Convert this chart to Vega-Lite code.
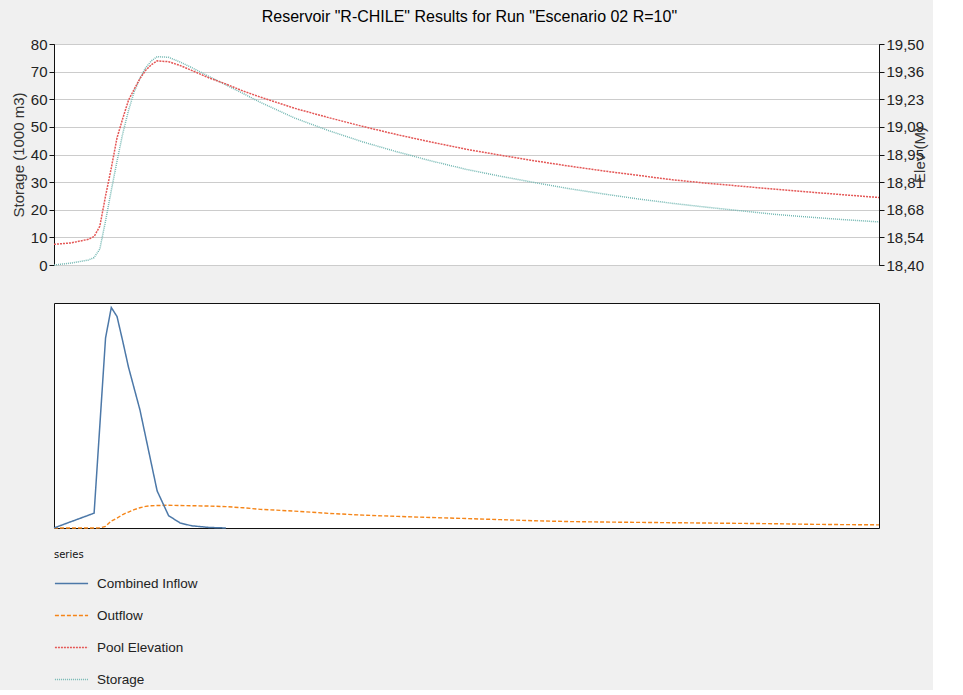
{
  "$schema": "https://vega.github.io/schema/vega-lite/v6.json",
  "background": "#f0f0f0",
  "padding": {"left": 10, "top": 8, "right": 4, "bottom": 4},
  "title": {
    "text": "Reservoir \"R-CHILE\" Results for Run \"Escenario 02 R=10\"",
    "font": "Liberation Sans",
    "fontSize": 16,
    "fontWeight": "normal",
    "color": "#000",
    "anchor": "middle",
    "offset": 12
  },
  "datasets": {
    "storage": [
      {"time": "2017-07-28T00:00", "series": "Storage", "value": 0},
      {"time": "2017-07-28T00:30", "series": "Storage", "value": 0.7},
      {"time": "2017-07-28T01:00", "series": "Storage", "value": 1.8},
      {"time": "2017-07-28T01:10", "series": "Storage", "value": 2.7},
      {"time": "2017-07-28T01:20", "series": "Storage", "value": 5.8},
      {"time": "2017-07-28T01:30", "series": "Storage", "value": 16.0},
      {"time": "2017-07-28T01:40", "series": "Storage", "value": 27.0},
      {"time": "2017-07-28T01:50", "series": "Storage", "value": 37.6},
      {"time": "2017-07-28T02:00", "series": "Storage", "value": 47.6},
      {"time": "2017-07-28T02:10", "series": "Storage", "value": 55.9},
      {"time": "2017-07-28T02:20", "series": "Storage", "value": 62.7},
      {"time": "2017-07-28T02:30", "series": "Storage", "value": 67.6},
      {"time": "2017-07-28T02:40", "series": "Storage", "value": 71.4},
      {"time": "2017-07-28T02:50", "series": "Storage", "value": 73.9},
      {"time": "2017-07-28T03:00", "series": "Storage", "value": 75.4},
      {"time": "2017-07-28T03:20", "series": "Storage", "value": 75.2},
      {"time": "2017-07-28T03:40", "series": "Storage", "value": 73.5},
      {"time": "2017-07-28T04:00", "series": "Storage", "value": 71.5},
      {"time": "2017-07-28T04:30", "series": "Storage", "value": 68.3},
      {"time": "2017-07-28T05:00", "series": "Storage", "value": 65.2},
      {"time": "2017-07-28T05:30", "series": "Storage", "value": 62.1},
      {"time": "2017-07-28T06:00", "series": "Storage", "value": 58.9},
      {"time": "2017-07-28T07:00", "series": "Storage", "value": 53.2},
      {"time": "2017-07-28T08:00", "series": "Storage", "value": 48.6},
      {"time": "2017-07-28T09:00", "series": "Storage", "value": 44.5},
      {"time": "2017-07-28T10:00", "series": "Storage", "value": 40.9},
      {"time": "2017-07-28T11:00", "series": "Storage", "value": 37.6},
      {"time": "2017-07-28T12:00", "series": "Storage", "value": 34.6},
      {"time": "2017-07-28T13:00", "series": "Storage", "value": 32.1},
      {"time": "2017-07-28T14:00", "series": "Storage", "value": 29.8},
      {"time": "2017-07-28T15:00", "series": "Storage", "value": 27.6},
      {"time": "2017-07-28T16:00", "series": "Storage", "value": 25.7},
      {"time": "2017-07-28T17:00", "series": "Storage", "value": 23.9},
      {"time": "2017-07-28T18:00", "series": "Storage", "value": 22.3},
      {"time": "2017-07-28T19:00", "series": "Storage", "value": 20.9},
      {"time": "2017-07-28T20:00", "series": "Storage", "value": 19.6},
      {"time": "2017-07-28T21:00", "series": "Storage", "value": 18.3},
      {"time": "2017-07-28T22:00", "series": "Storage", "value": 17.3},
      {"time": "2017-07-28T23:00", "series": "Storage", "value": 16.4},
      {"time": "2017-07-29T00:00", "series": "Storage", "value": 15.6}
    ],
    "elevation": [
      {"time": "2017-07-28T00:00", "series": "Pool Elevation", "value": 18.503},
      {"time": "2017-07-28T00:30", "series": "Pool Elevation", "value": 18.510},
      {"time": "2017-07-28T01:00", "series": "Pool Elevation", "value": 18.528},
      {"time": "2017-07-28T01:10", "series": "Pool Elevation", "value": 18.542},
      {"time": "2017-07-28T01:20", "series": "Pool Elevation", "value": 18.593},
      {"time": "2017-07-28T01:30", "series": "Pool Elevation", "value": 18.744},
      {"time": "2017-07-28T01:40", "series": "Pool Elevation", "value": 18.883},
      {"time": "2017-07-28T01:50", "series": "Pool Elevation", "value": 19.033},
      {"time": "2017-07-28T02:00", "series": "Pool Elevation", "value": 19.129},
      {"time": "2017-07-28T02:10", "series": "Pool Elevation", "value": 19.220},
      {"time": "2017-07-28T02:20", "series": "Pool Elevation", "value": 19.275},
      {"time": "2017-07-28T02:30", "series": "Pool Elevation", "value": 19.328},
      {"time": "2017-07-28T02:40", "series": "Pool Elevation", "value": 19.369},
      {"time": "2017-07-28T02:50", "series": "Pool Elevation", "value": 19.397},
      {"time": "2017-07-28T03:00", "series": "Pool Elevation", "value": 19.416},
      {"time": "2017-07-28T03:20", "series": "Pool Elevation", "value": 19.412},
      {"time": "2017-07-28T03:40", "series": "Pool Elevation", "value": 19.393},
      {"time": "2017-07-28T04:00", "series": "Pool Elevation", "value": 19.369},
      {"time": "2017-07-28T04:30", "series": "Pool Elevation", "value": 19.332},
      {"time": "2017-07-28T05:00", "series": "Pool Elevation", "value": 19.301},
      {"time": "2017-07-28T05:30", "series": "Pool Elevation", "value": 19.266},
      {"time": "2017-07-28T06:00", "series": "Pool Elevation", "value": 19.236},
      {"time": "2017-07-28T07:00", "series": "Pool Elevation", "value": 19.180},
      {"time": "2017-07-28T08:00", "series": "Pool Elevation", "value": 19.133},
      {"time": "2017-07-28T09:00", "series": "Pool Elevation", "value": 19.089},
      {"time": "2017-07-28T10:00", "series": "Pool Elevation", "value": 19.048},
      {"time": "2017-07-28T11:00", "series": "Pool Elevation", "value": 19.011},
      {"time": "2017-07-28T12:00", "series": "Pool Elevation", "value": 18.976},
      {"time": "2017-07-28T13:00", "series": "Pool Elevation", "value": 18.946},
      {"time": "2017-07-28T14:00", "series": "Pool Elevation", "value": 18.918},
      {"time": "2017-07-28T15:00", "series": "Pool Elevation", "value": 18.892},
      {"time": "2017-07-28T16:00", "series": "Pool Elevation", "value": 18.868},
      {"time": "2017-07-28T17:00", "series": "Pool Elevation", "value": 18.846},
      {"time": "2017-07-28T18:00", "series": "Pool Elevation", "value": 18.824},
      {"time": "2017-07-28T19:00", "series": "Pool Elevation", "value": 18.807},
      {"time": "2017-07-28T20:00", "series": "Pool Elevation", "value": 18.792},
      {"time": "2017-07-28T21:00", "series": "Pool Elevation", "value": 18.777},
      {"time": "2017-07-28T22:00", "series": "Pool Elevation", "value": 18.763},
      {"time": "2017-07-28T23:00", "series": "Pool Elevation", "value": 18.749},
      {"time": "2017-07-29T00:00", "series": "Pool Elevation", "value": 18.736}
    ],
    "outflow": [
      {"time": "2017-07-28T00:00", "series": "Outflow", "value": 0},
      {"time": "2017-07-28T00:30", "series": "Outflow", "value": 0},
      {"time": "2017-07-28T01:00", "series": "Outflow", "value": 0},
      {"time": "2017-07-28T01:10", "series": "Outflow", "value": 0},
      {"time": "2017-07-28T01:20", "series": "Outflow", "value": 0.01},
      {"time": "2017-07-28T01:30", "series": "Outflow", "value": 0.15},
      {"time": "2017-07-28T01:40", "series": "Outflow", "value": 0.62},
      {"time": "2017-07-28T01:50", "series": "Outflow", "value": 0.88},
      {"time": "2017-07-28T02:00", "series": "Outflow", "value": 1.2},
      {"time": "2017-07-28T02:10", "series": "Outflow", "value": 1.42},
      {"time": "2017-07-28T02:20", "series": "Outflow", "value": 1.63},
      {"time": "2017-07-28T02:30", "series": "Outflow", "value": 1.8},
      {"time": "2017-07-28T02:40", "series": "Outflow", "value": 1.92},
      {"time": "2017-07-28T02:50", "series": "Outflow", "value": 1.98},
      {"time": "2017-07-28T03:00", "series": "Outflow", "value": 2.0},
      {"time": "2017-07-28T03:20", "series": "Outflow", "value": 2.02},
      {"time": "2017-07-28T03:40", "series": "Outflow", "value": 2.0},
      {"time": "2017-07-28T04:00", "series": "Outflow", "value": 1.98},
      {"time": "2017-07-28T04:30", "series": "Outflow", "value": 1.95},
      {"time": "2017-07-28T05:00", "series": "Outflow", "value": 1.9},
      {"time": "2017-07-28T05:30", "series": "Outflow", "value": 1.8},
      {"time": "2017-07-28T06:00", "series": "Outflow", "value": 1.66},
      {"time": "2017-07-28T07:00", "series": "Outflow", "value": 1.5},
      {"time": "2017-07-28T08:00", "series": "Outflow", "value": 1.3},
      {"time": "2017-07-28T09:00", "series": "Outflow", "value": 1.14},
      {"time": "2017-07-28T10:00", "series": "Outflow", "value": 1.03},
      {"time": "2017-07-28T11:00", "series": "Outflow", "value": 0.93},
      {"time": "2017-07-28T12:00", "series": "Outflow", "value": 0.84},
      {"time": "2017-07-28T13:00", "series": "Outflow", "value": 0.74},
      {"time": "2017-07-28T14:00", "series": "Outflow", "value": 0.64},
      {"time": "2017-07-28T15:00", "series": "Outflow", "value": 0.57},
      {"time": "2017-07-28T16:00", "series": "Outflow", "value": 0.53},
      {"time": "2017-07-28T17:00", "series": "Outflow", "value": 0.5},
      {"time": "2017-07-28T18:00", "series": "Outflow", "value": 0.47},
      {"time": "2017-07-28T19:00", "series": "Outflow", "value": 0.44},
      {"time": "2017-07-28T20:00", "series": "Outflow", "value": 0.41},
      {"time": "2017-07-28T21:00", "series": "Outflow", "value": 0.38},
      {"time": "2017-07-28T22:00", "series": "Outflow", "value": 0.33},
      {"time": "2017-07-28T23:00", "series": "Outflow", "value": 0.3},
      {"time": "2017-07-29T00:00", "series": "Outflow", "value": 0.28}
    ],
    "inflow": [
      {"time": "2017-07-28T00:00", "series": "Combined Inflow", "value": 0},
      {"time": "2017-07-28T00:30", "series": "Combined Inflow", "value": 0.57},
      {"time": "2017-07-28T01:00", "series": "Combined Inflow", "value": 1.13},
      {"time": "2017-07-28T01:10", "series": "Combined Inflow", "value": 1.32},
      {"time": "2017-07-28T01:20", "series": "Combined Inflow", "value": 9.1},
      {"time": "2017-07-28T01:30", "series": "Combined Inflow", "value": 16.9},
      {"time": "2017-07-28T01:40", "series": "Combined Inflow", "value": 19.6},
      {"time": "2017-07-28T01:50", "series": "Combined Inflow", "value": 18.8},
      {"time": "2017-07-28T02:00", "series": "Combined Inflow", "value": 16.6},
      {"time": "2017-07-28T02:10", "series": "Combined Inflow", "value": 14.3},
      {"time": "2017-07-28T02:20", "series": "Combined Inflow", "value": 12.4},
      {"time": "2017-07-28T02:30", "series": "Combined Inflow", "value": 10.5},
      {"time": "2017-07-28T02:40", "series": "Combined Inflow", "value": 8.1},
      {"time": "2017-07-28T02:50", "series": "Combined Inflow", "value": 5.7},
      {"time": "2017-07-28T03:00", "series": "Combined Inflow", "value": 3.3},
      {"time": "2017-07-28T03:20", "series": "Combined Inflow", "value": 1.1},
      {"time": "2017-07-28T03:40", "series": "Combined Inflow", "value": 0.45},
      {"time": "2017-07-28T04:00", "series": "Combined Inflow", "value": 0.2},
      {"time": "2017-07-28T04:30", "series": "Combined Inflow", "value": 0.05},
      {"time": "2017-07-28T05:00", "series": "Combined Inflow", "value": 0}
    ]
  },
  "spacing": 28,
  "vconcat": [
    {
      "width": 825,
      "height": 221,
      "layer": [
        {
          "data": {"name": "storage"},
          "mark": {"type": "line", "strokeWidth": 1.5},
          "encoding": {
            "x": {
              "field": "time", "type": "temporal",
              "scale": {"domain": [{"year": 2017, "month": 7, "date": 28, "hours": 0}, {"year": 2017, "month": 7, "date": 29, "hours": 0}], "nice": false},
              "axis": {"title": null, "labels": false, "ticks": false, "domain": false, "grid": true, "tickCount": {"interval": "hour", "step": 3}}
            },
            "y": {
              "field": "value", "type": "quantitative",
              "scale": {"domain": [0, 80], "nice": false},
              "axis": {"title": "Storage (1000 m3)", "values": [0, 10, 20, 30, 40, 50, 60, 70, 80]}
            },
            "color": {"field": "series", "type": "nominal"},
            "strokeDash": {"field": "series", "type": "nominal"}
          }
        },
        {
          "data": {"name": "elevation"},
          "mark": {"type": "line", "strokeWidth": 1.5},
          "encoding": {
            "x": {"field": "time", "type": "temporal", "axis": null},
            "y": {
              "field": "value", "type": "quantitative",
              "scale": {"domain": [18.4, 19.5], "nice": false, "zero": false},
              "axis": {
                "orient": "right", "title": "Elev (M)", "titleAngle": -90, "grid": false,
                "values": [18.4, 18.5375, 18.675, 18.8125, 18.95, 19.0875, 19.225, 19.3625, 19.5],
                "labelExpr": "replace(format(datum.value + 0.0001, '.2f'), '.', ',')"
              }
            },
            "color": {"field": "series", "type": "nominal"},
            "strokeDash": {"field": "series", "type": "nominal"}
          }
        }
      ],
      "resolve": {"scale": {"y": "independent"}}
    },
    {
      "width": 825,
      "height": 225,
      "layer": [
        {
          "data": {"name": "outflow"},
          "mark": {"type": "line", "strokeWidth": 1.4},
          "encoding": {
            "x": {
              "field": "time", "type": "temporal",
              "scale": {"domain": [{"year": 2017, "month": 7, "date": 28, "hours": 0}, {"year": 2017, "month": 7, "date": 29, "hours": 0}], "nice": false},
              "axis": {"title": "28Jul2017", "format": "%H:%M", "grid": true, "tickCount": {"interval": "hour", "step": 3}, "titlePadding": 6}
            },
            "y": {
              "field": "value", "type": "quantitative",
              "scale": {"domain": [0, 20], "nice": false},
              "axis": {"title": "Flow (cms)", "values": [0, 2, 4, 6, 8, 10, 12, 14, 16, 18, 20]}
            },
            "color": {"field": "series", "type": "nominal"},
            "strokeDash": {"field": "series", "type": "nominal"}
          }
        },
        {
          "data": {"name": "inflow"},
          "mark": {"type": "line", "strokeWidth": 1.5},
          "encoding": {
            "x": {"field": "time", "type": "temporal", "axis": null},
            "y": {"field": "value", "type": "quantitative", "axis": null},
            "color": {"field": "series", "type": "nominal"},
            "strokeDash": {"field": "series", "type": "nominal"}
          }
        }
      ]
    }
  ],
  "resolve": {"scale": {"color": "shared", "strokeDash": "shared"}},
  "config": {
    "font": "Liberation Sans",
    "view": {"stroke": "#111", "strokeWidth": 1, "fill": "#ffffff"},
    "axis": {
      "labelFont": "Liberation Sans", "labelFontSize": 15, "labelColor": "#222",
      "titleFont": "Liberation Sans", "titleFontSize": 15, "titleFontWeight": "normal", "titleColor": "#333",
      "gridColor": "#cccccc", "gridOpacity": 1, "gridWidth": 1,
      "domainColor": "#111", "tickColor": "#111", "tickSize": 5, "labelPadding": 2
    },
    "legend": {
      "orient": "bottom",
      "direction": "vertical",
      "titleFont": "DejaVu Sans", "titleFontSize": 10, "titleFontWeight": "normal", "titleColor": "#111",
      "labelFont": "Liberation Sans", "labelFontSize": 13.5, "labelColor": "#222", "labelLimit": 0,
      "labelOffset": 8, "symbolType": "stroke", "symbolSize": 1100, "symbolStrokeWidth": 1.4,
      "rowPadding": 8, "titlePadding": 6
    }
  }
}
